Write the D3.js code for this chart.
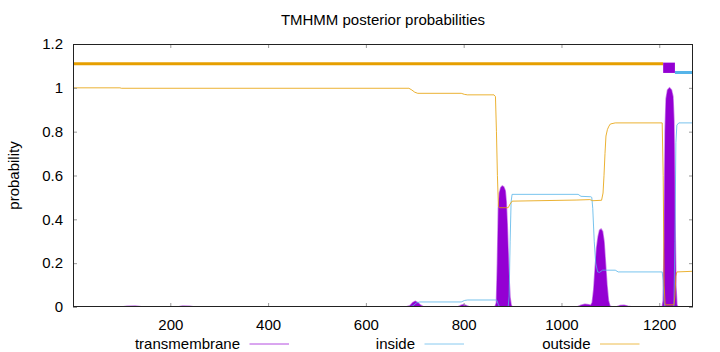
<!DOCTYPE html>
<html>
<head>
<meta charset="utf-8">
<script src="https://cdn.jsdelivr.net/npm/d3@7"></script>
<style>
    body { margin: 0; background: #fff; }
    text { font-family: "Liberation Sans", Arial, sans-serif; font-size: 15px; fill: #000; }
</style>
</head>
<body>
<div id="tmhmm"></div>
<script>
// posterior probabilities: [residue, probability]
const transmembrane = [
    [1, 0], [100, 0], [112, 0.003], [128, 0.004], [145, 0], [215, 0], [225, 0.004], [240, 0.003], [250, 0],
    [682, 0], [690, 0.006], [696, 0.02], [701, 0.026], [706, 0.02], [712, 0.008], [718, 0],
    [788, 0], [795, 0.008], [800, 0.011], [806, 0.006], [812, 0],
    [864, 0], [867, 0.02], [869, 0.2], [871, 0.45], [873, 0.52], [876, 0.545], [879, 0.552], [882, 0.548],
    [885, 0.53], [887, 0.48], [889, 0.38], [891, 0.25], [893, 0.12], [895, 0.04], [897, 0.01], [899, 0],
    [1032, 0], [1040, 0.008], [1048, 0.012], [1056, 0.01], [1060, 0.008], [1063, 0.02], [1066, 0.08],
    [1069, 0.18], [1072, 0.27], [1075, 0.32], [1078, 0.35], [1081, 0.355], [1084, 0.345], [1087, 0.3],
    [1090, 0.2], [1093, 0.1], [1096, 0.03], [1099, 0.005], [1103, 0],
    [1112, 0], [1120, 0.007], [1128, 0.008], [1136, 0.004], [1146, 0],
    [1206, 0], [1208, 0.03], [1210, 0.3], [1212, 0.8], [1214, 0.95], [1217, 0.99], [1221, 1.0],
    [1225, 0.99], [1228, 0.96], [1230, 0.85], [1232, 0.45], [1234, 0.1], [1236, 0.01], [1238, 0], [1269, 0]
];

const inside = [
    [1, 0.001], [690, 0.001], [696, 0.005], [703, 0.018], [710, 0.023], [795, 0.023], [802, 0.03],
    [808, 0.032], [866, 0.032], [868, 0.03], [871, 0.01], [874, 0], [891, 0], [893, 0.05], [895, 0.3],
    [897, 0.48], [899, 0.514], [1034, 0.514], [1040, 0.505], [1060, 0.503], [1062, 0.5], [1064, 0.45],
    [1067, 0.3], [1070, 0.2], [1074, 0.16], [1078, 0.158], [1084, 0.168], [1110, 0.168], [1116, 0.16],
    [1206, 0.16], [1208, 0.12], [1210, 0.02], [1212, 0], [1230, 0], [1232, 0.3], [1234, 0.75],
    [1236, 0.83], [1240, 0.84], [1269, 0.84]
];

const outside = [
    [1, 1.0], [97, 1.0], [100, 0.998], [688, 0.998], [694, 0.99], [700, 0.98], [706, 0.975],
    [795, 0.975], [802, 0.97], [808, 0.968], [862, 0.968], [865, 0.96], [867, 0.8], [869, 0.6],
    [871, 0.46], [873, 0.453], [891, 0.453], [895, 0.47], [899, 0.483], [1030, 0.488], [1058, 0.49],
    [1064, 0.485], [1082, 0.487], [1085, 0.52], [1087, 0.6], [1089, 0.7], [1091, 0.78], [1094, 0.81],
    [1097, 0.825], [1100, 0.835], [1110, 0.84], [1206, 0.84], [1208, 0.6], [1210, 0.1], [1212, 0.01],
    [1230, 0.01], [1232, 0.05], [1234, 0.14], [1236, 0.16], [1269, 0.163]
];

// predicted topology drawn above the curves
const topoOutside = [1, 1208];
const topoTM = [1208, 1232];
const topoInside = [1232, 1269];
const topoLevels = [1.11, 1.07, 1.068, 1.115]; // outside line, inside line, TM box low, TM box high

const seqRange = [1, 1269];
const xTicks = [200, 400, 600, 800, 1000, 1200];
const yTicks = [0, 0.2, 0.4, 0.6, 0.8, 1, 1.2];
const yTickLabels = ["0", "0.2", "0.4", "0.6", "0.8", "1", "1.2"];
const legendNames = ["transmembrane", "inside", "outside"];

const colors = {transmembrane: "#9400d3", inside: "#56b4e9", outside: "#e69f00"};

let W = 720, H = 352;
let plot = {left: 73, right: 693, top: 44, bottom: 307};

let svg = d3.select("#tmhmm")
    .append("svg")
    .attr("width", W)
    .attr("height", H);

let x = d3.scaleLinear().domain(seqRange).range([plot.left, plot.right]);
let y = d3.scaleLinear().domain([0, 1.2]).range([plot.bottom, plot.top]);

svg.append("clipPath").attr("id", "clip")
    .append("rect")
    .attr("x", plot.left).attr("y", plot.top)
    .attr("width", plot.right - plot.left).attr("height", plot.bottom - plot.top);

let g = svg.append("g").attr("clip-path", "url(#clip)");

// transmembrane as filled impulses
let area = d3.area()
    .x(d => x(d[0]))
    .y0(y(0))
    .y1(d => y(d[1]));
g.append("path")
    .attr("d", area(transmembrane))
    .attr("fill", colors.transmembrane)
    .attr("stroke", colors.transmembrane)
    .attr("stroke-width", 1.5)
    .attr("stroke-opacity", 0.5);

let line = d3.line()
    .x(d => x(d[0]))
    .y(d => y(d[1]));

g.append("path")
    .attr("d", line(inside))
    .attr("fill", "none")
    .attr("stroke", colors.inside)
    .attr("stroke-opacity", 0.8)
    .attr("stroke-width", 1);

g.append("path")
    .attr("d", line(outside))
    .attr("fill", "none")
    .attr("stroke", colors.outside)
    .attr("stroke-opacity", 0.8)
    .attr("stroke-width", 1);

// topology bars
g.append("line")
    .attr("x1", x(topoOutside[0])).attr("x2", x(topoOutside[1]))
    .attr("y1", y(topoLevels[0])).attr("y2", y(topoLevels[0]))
    .attr("stroke", colors.outside)
    .attr("stroke-width", 3);
g.append("line")
    .attr("x1", x(topoInside[0])).attr("x2", x(topoInside[1]))
    .attr("y1", y(topoLevels[1])).attr("y2", y(topoLevels[1]))
    .attr("stroke", colors.inside)
    .attr("stroke-width", 3);
g.append("rect")
    .attr("x", x(topoTM[0]))
    .attr("y", y(topoLevels[3]))
    .attr("width", x(topoTM[1]) - x(topoTM[0]))
    .attr("height", y(topoLevels[2]) - y(topoLevels[3]))
    .attr("fill", colors.transmembrane);

// axes with inward ticks, mirrored on top and right
let tickLen = 4;
let axisStyle = sel => {
    sel.select(".domain").remove();
    sel.selectAll(".tick line").attr("stroke", "#999");
    sel.selectAll("text").attr("font-size", null).attr("font-family", null);
};

svg.append("g")
    .attr("transform", `translate(0, ${plot.bottom})`)
    .call(d3.axisBottom(x).tickValues(xTicks).tickSize(-tickLen).tickPadding(12).tickFormat(d3.format("d")))
    .call(axisStyle);
svg.append("g")
    .attr("transform", `translate(0, ${plot.top})`)
    .call(d3.axisTop(x).tickValues(xTicks).tickSize(-tickLen).tickFormat(""))
    .call(axisStyle);
svg.append("g")
    .attr("transform", `translate(${plot.left}, 0)`)
    .call(d3.axisLeft(y).tickValues(yTicks).tickSize(-tickLen).tickPadding(10)
        .tickFormat((d, i) => yTickLabels[i]))
    .call(axisStyle);
svg.append("g")
    .attr("transform", `translate(${plot.right}, 0)`)
    .call(d3.axisRight(y).tickValues(yTicks).tickSize(-tickLen).tickFormat(""))
    .call(axisStyle);

svg.append("rect")
    .attr("x", plot.left + 0.5).attr("y", plot.top + 0.5)
    .attr("width", plot.right - plot.left - 1).attr("height", plot.bottom - plot.top - 1)
    .attr("fill", "none")
    .attr("stroke", "#222")
    .attr("stroke-width", 1);

// title and y label
svg.append("text")
    .attr("x", (plot.left + plot.right) / 2)
    .attr("y", 25)
    .attr("text-anchor", "middle")
    .text("TMHMM posterior probabilities");

svg.append("text")
    .attr("transform", `translate(19, ${(plot.top + plot.bottom) / 2}) rotate(-90)`)
    .attr("text-anchor", "middle")
    .text("probability");

// legend below the plot
let legendX = [240, 415, 590.5];
let legendY = 344;
let legend = svg.selectAll(".legend")
    .data(legendNames)
    .enter()
    .append("g")
    .attr("class", "legend");
legend.append("text")
    .attr("x", (d, i) => legendX[i])
    .attr("y", legendY + 5)
    .attr("text-anchor", "end")
    .text(d => d);
legend.append("line")
    .attr("x1", (d, i) => legendX[i] + 9.5)
    .attr("x2", (d, i) => legendX[i] + 49)
    .attr("y1", legendY)
    .attr("y2", legendY)
    .attr("stroke", d => colors[d])
    .attr("stroke-opacity", 0.7)
    .attr("stroke-width", 1);
</script>
</body>
</html>
